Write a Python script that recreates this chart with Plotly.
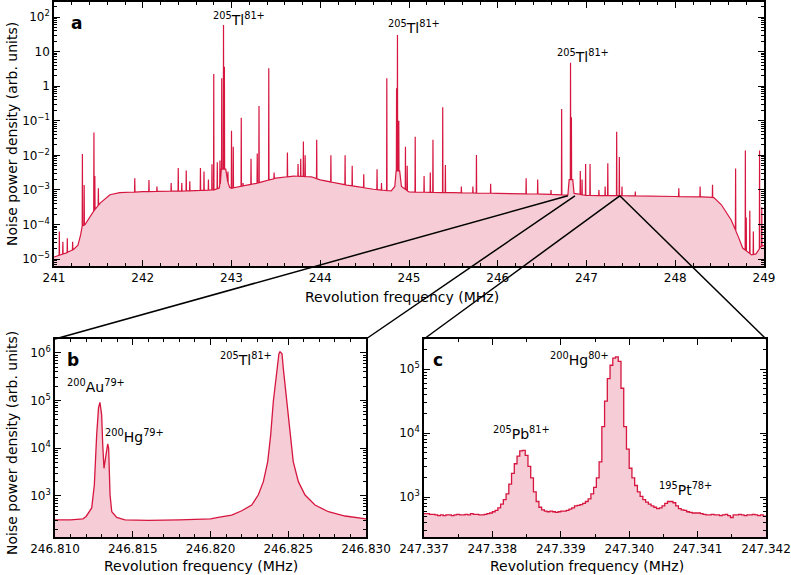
import numpy as np
import plotly.graph_objects as go

# ---------------- data: panel a (full spectrum) ----------------
base_x = [241.00, 241.05, 241.14, 241.22, 241.27, 241.30, 241.315, 241.35, 241.43, 241.52,
          241.63, 241.74, 242.00, 242.50, 242.80, 242.86, 242.875, 242.885, 242.935, 242.955,
          242.98, 243.00, 243.30, 243.50, 243.70, 243.90, 244.00, 244.30, 244.60, 244.80,
          244.84, 244.855, 244.895, 244.915, 245.00, 245.50, 246.00, 246.50, 246.79, 246.805,
          246.845, 246.86, 247.00, 247.50, 248.00, 248.30, 248.435, 248.52, 248.63, 248.71,
          248.76, 248.86, 248.91, 248.965, 249.00]
base_logy = [-4.94, -4.90, -4.82, -4.72, -4.60, -4.30, -4.05, -4.00, -3.67, -3.38,
             -3.14, -3.08, -3.05, -3.03, -3.00, -2.95, -2.80, -2.40, -2.40, -2.75,
             -2.93, -2.95, -2.80, -2.66, -2.60, -2.62, -2.71, -2.86, -2.98, -3.03,
             -2.90, -2.45, -2.45, -2.90, -3.06, -3.08, -3.10, -3.12, -3.15, -2.70,
             -2.70, -3.10, -3.16, -3.17, -3.19, -3.20, -3.22, -3.43, -3.87, -4.35,
             -4.68, -4.88, -4.85, -4.64, -4.60]

peak_x = [241.06, 241.10, 241.15, 241.21, 241.32, 241.34, 241.45, 241.46, 241.50, 241.91,
          242.07, 242.16, 242.32, 242.40, 242.44, 242.49, 242.53, 242.65, 242.69, 242.74,
          242.78, 242.80, 242.84, 242.87, 242.89, 242.91, 242.92, 242.96, 243.00, 243.02,
          243.11, 243.13, 243.22, 243.29, 243.31, 243.42, 243.48, 243.63, 243.75, 243.78,
          243.81, 243.83, 243.96, 244.12, 244.28, 244.36, 244.49, 244.64, 244.69, 244.75,
          244.86, 244.87, 244.885, 244.96, 244.98, 245.07, 245.17, 245.24, 245.27, 245.38,
          245.41, 245.59, 245.72, 245.76, 245.92, 246.32, 246.45, 246.60, 246.72, 246.82,
          246.83, 246.93, 246.95, 246.99, 247.04, 247.14, 247.21, 247.24, 247.34, 247.37,
          247.40, 247.55, 248.04, 248.28, 248.42, 248.68, 248.79, 248.80, 248.84, 248.88,
          248.95, 248.975]
peak_logy = [-4.20, -4.50, -4.40, -4.50, -1.96, -2.86, -1.34, -2.60, -2.95, -2.66,
             -2.71, -2.90, -2.80, -2.37, -2.80, -2.44, -2.75, -2.37, -2.47, -2.70,
             -2.26, 0.35, -2.20, -2.15, 0.23, 1.77, 0.56, -2.47, -1.29, -1.75,
             -0.91, -2.80, -2.10, -1.95, -0.57, 0.52, -2.50, -1.92, -2.25, -2.10,
             -1.60, -2.00, -1.55, -2.00, -2.00, -2.30, -2.55, -2.40, -2.80, 0.23,
             -0.06, 1.48, -1.00, -1.75, -2.30, -1.46, -2.60, -2.50, -1.55, -0.61,
             -2.28, -2.90, -2.90, -1.99, -2.82, -2.66, -2.70, -3.00, -0.66, 0.68,
             -0.90, -2.45, -2.70, -2.25, -2.25, -3.00, -2.90, -2.23, -1.32, -2.05,
             -2.90, -3.05, -2.95, -2.90, -2.85, -2.38, -1.86, -3.80, -3.60, -4.20,
             -1.86, -3.50]

# ---------------- data: panel b ----------------
b_x = [246.8100, 246.8110, 246.8118, 246.8120, 246.81236, 246.81253, 246.81268, 246.81280,
       246.81289, 246.81300, 246.81307, 246.81315, 246.81328, 246.81339, 246.81345, 246.81354,
       246.81365, 246.81397, 246.81450, 246.81600, 246.81800, 246.82000, 246.82050, 246.82136,
       246.82201, 246.82265, 246.82307, 246.82340, 246.82368, 246.82387, 246.82404, 246.82426,
       246.82440, 246.82447, 246.82460, 246.82468, 246.82490, 246.82511, 246.82532, 246.82565,
       246.82608, 246.82672, 246.82758, 246.82865, 246.83000]
b_logy = [2.50, 2.50, 2.52, 2.57, 2.75, 3.23, 4.28, 4.85,
          4.96, 4.70, 4.07, 3.58, 3.86, 4.09, 4.00, 3.02,
          2.67, 2.55, 2.50, 2.49, 2.50, 2.52, 2.55, 2.60,
          2.69, 2.81, 3.02, 3.30, 3.72, 4.28, 4.98, 5.68,
          5.98, 6.02, 5.98, 5.68, 4.98, 4.28, 3.72, 3.30,
          3.02, 2.81, 2.67, 2.58, 2.52]

# ---------------- data: panel c (histogram, bin width 0.04 kHz) ----------------
c_start = 247.337
c_bin = 0.00004
c_logy = [2.74, 2.74, 2.73, 2.73, 2.72, 2.71, 2.72, 2.71, 2.72, 2.72, 2.71, 2.72, 2.73, 2.72,
          2.72, 2.73, 2.72, 2.74, 2.73, 2.73, 2.72, 2.72, 2.73, 2.74,
          2.75, 2.77, 2.79, 2.83, 2.89, 2.96, 3.05, 3.20, 3.37, 3.52, 3.64, 3.72, 3.73, 3.65,
          3.48, 3.30, 3.08, 2.93, 2.84, 2.80, 2.78, 2.77,
          2.78, 2.77, 2.76, 2.77, 2.78, 2.78, 2.79, 2.81, 2.83, 2.86, 2.87, 2.88, 2.90, 2.93,
          2.97, 3.05, 3.15, 3.30, 3.55,
          4.10, 4.50, 4.85, 5.06, 5.17, 5.19, 5.12, 4.70, 4.10, 3.75, 3.45, 3.30, 3.18, 3.08,
          3.01, 2.96, 2.92, 2.89, 2.86, 2.84, 2.82, 2.83,
          2.86, 2.90, 2.93, 2.93, 2.91, 2.86, 2.82, 2.80, 2.79, 2.77, 2.76, 2.75, 2.75, 2.75,
          2.74, 2.73, 2.72,
          2.72, 2.73, 2.72, 2.72, 2.71, 2.72, 2.73, 2.71, 2.68, 2.72, 2.72, 2.73, 2.72, 2.71,
          2.72, 2.72, 2.73, 2.72, 2.71, 2.72, 2.70]

# ---------------- styles ----------------
LINE = '#d6163f'
FILL = '#f6cdd7'
FONT = 'DejaVu Sans'

# ---------------- build panel a curve ----------------
W = 0.0025
bx = np.array(base_x)
bl = np.array(base_logy)
pxa = np.array(peak_x)
pts = [(x, l) for x, l in zip(bx, bl) if np.all(np.abs(pxa - x) > 1.5 * W)]
for p, l in zip(peak_x, peak_logy):
    f0, f1 = np.interp([p - W, p + W], bx, bl)
    pts += [(p - W, f0), (p, l), (p + W, f1)]
pts.sort()
a_x = np.array([p[0] for p in pts])
a_y = 10 ** np.array([p[1] for p in pts])

# panel c step curve
c_edges = c_start + c_bin * np.arange(len(c_logy) + 1)
c_x = list(c_edges)
c_y = list(10 ** np.array(c_logy)) + [10 ** c_logy[-1]]

fig = go.Figure()

def add_spectrum(x, y, xa, ya, shape='linear', w=1.2):
    fig.add_trace(go.Scatter(x=[x[0], x[-1]], y=[1e-9, 1e-9], mode='lines', line=dict(width=0),
                             xaxis=xa, yaxis=ya, showlegend=False, hoverinfo='skip'))
    fig.add_trace(go.Scatter(x=x, y=y, mode='lines', line=dict(color=LINE, width=w, shape=shape),
                             fill='tonexty', fillcolor=FILL, xaxis=xa, yaxis=ya, showlegend=False))

add_spectrum(a_x, a_y, 'x', 'y', w=1.2)
add_spectrum(np.array(b_x), 10 ** np.array(b_logy), 'x2', 'y2', w=1.3)
add_spectrum(np.array(c_x), np.array(c_y), 'x3', 'y3', shape='hv', w=1.3)

# ---------------- layout geometry ----------------
ML, MR, MT, MB = 54, 25, 2, 38
FW, FH = 791, 575
PW, PH = FW - ML - MR, FH - MT - MB

def px2paper_x(p):
    return (p - ML) / PW

def py2paper_y(p):
    return (FH - MB - p) / PH

dom_top_x = [0, px2paper_x(764)]
dom_top_y = [py2paper_y(266), 1.0]
dom_b_x = [px2paper_x(55), px2paper_x(366)]
dom_c_x = [px2paper_x(424), 1.0]
dom_bot_y = [0, py2paper_y(339)]

a_range_y = [-5.2, 2.434]
b_range_y = [2.14, 6.29]
c_range_y = [2.375, 5.47]

def log_ticks(lo, hi):
    return [m * 10.0 ** e for e in range(lo, hi) for m in range(2, 10)]

def sup(e):
    return '10<sup>' + str(e).replace('-', '\u2212') + '</sup>'

common = dict(showline=True, linecolor='black', linewidth=1.5, mirror='ticks', ticks='inside',
              ticklen=6, tickwidth=1.2, tickcolor='black', showgrid=False, zeroline=False,
              automargin=False, tickfont=dict(family=FONT, size=12, color='black'))

a_yticks = [1e-5, 1e-4, 1e-3, 1e-2, 1e-1, 1, 10, 100]
a_ytext = [sup(-5), sup(-4), sup(-3), sup(-2), sup(-1), '1', '10', sup(2)]

fig.update_layout(
    width=FW, height=FH, margin=dict(l=ML, r=MR, t=MT, b=MB, autoexpand=False),
    paper_bgcolor='white', plot_bgcolor='white',
    font=dict(family=FONT, size=12, color='black'),
    xaxis=dict(domain=dom_top_x, anchor='y', range=[241, 249], tickvals=list(range(241, 250)),
               minor=dict(ticks='inside', ticklen=3, tickcolor='black', dtick=0.2), **common),
    yaxis=dict(domain=dom_top_y, anchor='x', type='log', range=a_range_y,
               tickvals=a_yticks, ticktext=a_ytext,
               minor=dict(ticks='inside', ticklen=3, tickcolor='black', tickvals=log_ticks(-6, 3)),
               **common),
    xaxis2=dict(domain=dom_b_x, anchor='y2', range=[246.810, 246.830],
                tickvals=[246.810, 246.815, 246.820, 246.825, 246.830],
                ticktext=['246.810', '246.815', '246.820', '246.825', '246.830'],
                minor=dict(ticks='inside', ticklen=3, tickcolor='black', dtick=0.001, tick0=246.810),
                **common),
    yaxis2=dict(domain=dom_bot_y, anchor='x2', type='log', range=b_range_y,
                tickvals=[1e3, 1e4, 1e5, 1e6], ticktext=[sup(3), sup(4), sup(5), sup(6)],
                minor=dict(ticks='inside', ticklen=3, tickcolor='black', tickvals=log_ticks(2, 7)),
                **common),
    xaxis3=dict(domain=dom_c_x, anchor='y3', range=[247.337, 247.342],
                tickvals=[247.337, 247.338, 247.339, 247.340, 247.341, 247.342],
                ticktext=['247.337', '247.338', '247.339', '247.340', '247.341', '247.342'],
                minor=dict(ticks='inside', ticklen=3, tickcolor='black', dtick=0.0005, tick0=247.337),
                **common),
    yaxis3=dict(domain=dom_bot_y, anchor='x3', type='log', range=c_range_y,
                tickvals=[1e3, 1e4, 1e5], ticktext=[sup(3), sup(4), sup(5)],
                minor=dict(ticks='inside', ticklen=3, tickcolor='black', tickvals=log_ticks(2, 6)),
                **common),
)

# ---------------- annotations ----------------
ann = []
def label(text, x, y, xref, yref, size=14, **kw):
    ann.append(dict(text=text, x=x, y=y, xref=xref, yref=yref, showarrow=False,
                    xanchor='center', yanchor='middle',
                    font=dict(family=FONT, size=size, color='black'), **kw))

tl = '<sup>205</sup>Tl<sup>81+</sup>'
label(tl, 243.08, 1.93, 'x', 'y', size=14)
label(tl, 245.06, 1.70, 'x', 'y', size=14)
label(tl, 246.96, 0.86, 'x', 'y', size=14)
label('<b>a</b>', 241.25, 1.83, 'x', 'y', size=17)

label('<sup>200</sup>Au<sup>79+</sup>', 246.81264, 5.30, 'x2', 'y2', size=14)
label('<sup>200</sup>Hg<sup>79+</sup>', 246.81514, 4.25, 'x2', 'y2', size=14)
label(tl, 246.82228, 5.88, 'x2', 'y2', size=14)
label('<b>b</b>', 246.81116, 5.85, 'x2', 'y2', size=17)

label('<sup>200</sup>Hg<sup>80+</sup>', 247.33927, 5.15, 'x3', 'y3', size=14)
label('<sup>205</sup>Pb<sup>81+</sup>', 247.33843, 4.00, 'x3', 'y3', size=14)
label('<sup>195</sup>Pt<sup>78+</sup>', 247.34083, 3.12, 'x3', 'y3', size=14)
label('<b>c</b>', 247.3372, 5.14, 'x3', 'y3', size=17)

xt = 'Revolution frequency (MHz)'
yt = 'Noise power density (arb. units)'
label(xt, px2paper_x(402), py2paper_y(297), 'paper', 'paper', size=14)
label(xt, px2paper_x(201), py2paper_y(566), 'paper', 'paper', size=14)
label(xt, px2paper_x(587), py2paper_y(566), 'paper', 'paper', size=14)
label(yt, px2paper_x(12), py2paper_y(134), 'paper', 'paper', size=14, textangle=-90)
label(yt, px2paper_x(12), py2paper_y(443), 'paper', 'paper', size=14, textangle=-90)
fig.update_layout(annotations=ann)

# ---------------- connector lines (zoom indicators) ----------------
def top_to_paper(x, logy):
    px = dom_top_x[0] + (x - 241) / 8 * (dom_top_x[1] - dom_top_x[0])
    py = dom_top_y[0] + (logy - a_range_y[0]) / (a_range_y[1] - a_range_y[0]) * (dom_top_y[1] - dom_top_y[0])
    return px, py

anchor_logy = -3.17
conn = [((246.79, anchor_logy), (dom_b_x[0], dom_bot_y[1])),
        ((246.87, anchor_logy), (dom_b_x[1], dom_bot_y[1])),
        ((247.375, anchor_logy), (dom_c_x[0], dom_bot_y[1])),
        ((247.375, anchor_logy), (dom_c_x[1], dom_bot_y[1]))]
shapes = []
for (tx, ty), (bxp, byp) in conn:
    x0, y0 = top_to_paper(tx, ty)
    shapes.append(dict(type='line', xref='paper', yref='paper', x0=x0, y0=y0, x1=bxp, y1=byp,
                       line=dict(color='black', width=1.5)))
fig.update_layout(shapes=shapes)

fig.write_html('out.html', config={'displayModeBar': False},
               post_script="document.body.style.margin='0';")
